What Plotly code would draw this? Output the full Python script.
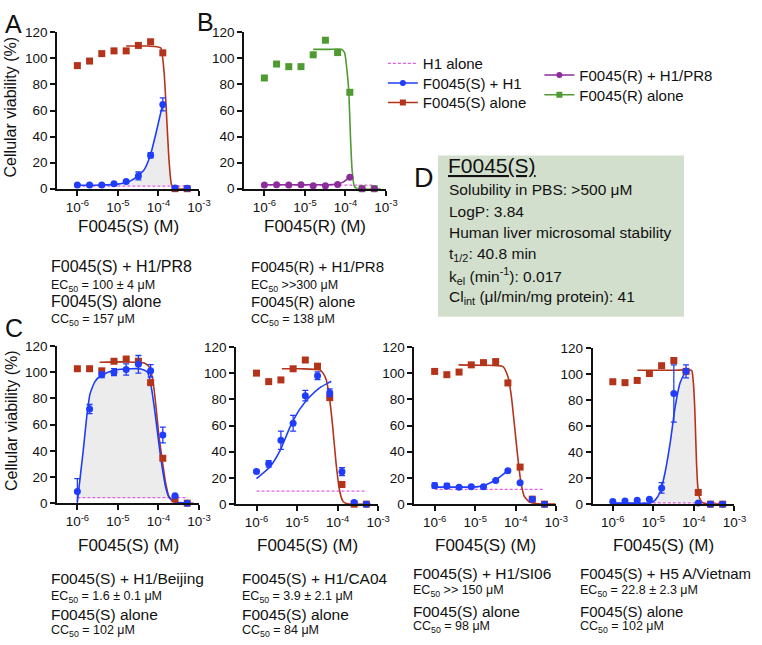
"""Dose-response panels for F0045(S)/(R) with Plotly."""

from __future__ import annotations

import numpy as np
import plotly.graph_objects as go

W, H = 762, 645
FONT = "Liberation Sans, Arial, Helvetica, sans-serif"
INK = "#111111"
BLUE = "#1f3dfa"
RED = "#b3331b"
GREEN = "#4f9a32"
PURPLE = "#8d2d9c"
MAGENTA = "#e35ee8"
SHADE = "#ececec"
BOX = "#d3dfcd"

# two-fold dilution series (M)
CONC_M = [1e-6, 2e-6, 4e-6, 8e-6, 1.6e-5, 3.2e-5, 6.4e-5, 1.28e-4, 2.56e-4, 5.12e-4]
TICK_VALS = [1e-6, 1e-5, 1e-4, 1e-3]
TICK_TEXT = ["10<sup>-6</sup>", "10<sup>-5</sup>", "10<sup>-4</sup>", "10<sup>-3</sup>"]
Y_TICKS = [0, 20, 40, 60, 80, 100, 120]

# --- panel A: F0045(S) vs H1/PR8 ---
A_VIRUS_PTS = [2.8, 2.8, 2.8, 3.8, 5.5, 9.8, 25.6, 64.7, 0.5, 0.3]
A_VIRUS_ERR = [0.5, 0.5, 0.5, 0.6, 0.8, 3.0, 2.0, 5.0, 0.3, 0.3]
A_ALONE_PTS = [94.5, 98.0, 103.7, 105.8, 105.8, 110.0, 112.8, 104.3, 0.0, 0.0]
A_H1_ONLY = 2.0
A_FIT_VIRUS_X = [1e-6, 4e-6, 1e-5, 2e-5, 3.1e-5, 4.5e-5, 6.3e-5, 8.6e-5, 1.26e-4]
A_FIT_VIRUS_Y = [2.6, 2.8, 3.5, 5.8, 9.8, 14.8, 25.6, 42.0, 64.4]
A_FIT_ALONE_X = [1.6e-5, 5e-5, 9e-5, 1.15e-4, 1.38e-4, 1.58e-4, 1.82e-4, 2.1e-4, 2.5e-4, 5.6e-4]
A_FIT_ALONE_Y = [109.5, 109.5, 109.0, 108.0, 89.0, 57.0, 22.0, 3.0, 0.3, 0.0]

# --- panel B: F0045(R) vs H1/PR8 ---
B_VIRUS_PTS = [2.8, 3.0, 2.8, 3.0, 2.3, 2.3, 3.3, 8.8, 0.0, 0.0]
B_VIRUS_ERR = [0.3, 0.3, 0.3, 0.3, 0.3, 0.3, 0.3, 0.5, 0.3, 0.3]
B_ALONE_PTS = [85.0, 95.7, 93.7, 93.7, 102.8, 114.0, 104.5, 74.0, 0.0, 0.0]
B_H1_ONLY = 2.8
B_FIT_VIRUS_X = [1e-6, 1e-5, 3.2e-5, 6.4e-5, 9e-5, 1.28e-4]
B_FIT_VIRUS_Y = [3.0, 3.0, 3.0, 3.6, 5.2, 8.8]
B_FIT_ALONE_X = [1.6e-5, 4e-5, 7.9e-5, 9.5e-5, 1.1e-4, 1.21e-4, 1.33e-4, 1.46e-4, 1.66e-4, 2e-4, 7.4e-4]
B_FIT_ALONE_Y = [107.0, 107.0, 107.0, 104.5, 89.5, 74.0, 39.0, 14.0, 1.7, 0.0, 0.0]

# --- panel C1: H1/Beijing ---
C1_VIRUS_PTS = [9.0, 71.8, 98.0, 100.0, 102.0, 106.0, 101.0, 52.0, 5.7, 0.0]
C1_VIRUS_ERR = [9.7, 3.5, 2.2, 2.7, 4.3, 6.7, 4.8, 6.0, 0.8, 0.3]
C1_ALONE_PTS = [102.6, 102.6, 101.0, 108.3, 110.0, 108.3, 92.0, 34.3, 3.2, 0.0]
C1_H1_ONLY = 4.2
C1_FIT_VIRUS_X = [1e-6, 1.4e-6, 1.69e-6, 2.04e-6, 2.69e-6, 3.89e-6, 7.94e-6, 2.09e-5, 3.72e-5,
                  5.37e-5, 6.31e-5, 7.14e-5, 8.32e-5, 9.55e-5, 1.1e-4, 1.26e-4, 1.51e-4, 1.82e-4,
                  2.4e-4, 5.62e-4]
C1_FIT_VIRUS_Y = [1.0, 40.5, 65.0, 83.0, 92.6, 97.6, 101.5, 102.6, 102.4, 100.0, 92.7, 82.7, 67.8,
                  53.0, 38.0, 25.6, 12.0, 4.5, 1.2, 0.0]
C1_FIT_ALONE_X = [3.55e-6, 1.58e-5, 4.47e-5, 5.89e-5, 7.14e-5, 8.13e-5, 9.33e-5, 1.02e-4, 1.15e-4,
                  1.29e-4, 1.51e-4, 1.82e-4, 2.4e-4, 3.55e-4, 7.41e-4]
C1_FIT_ALONE_Y = [107.6, 107.8, 107.0, 104.0, 95.0, 82.0, 64.0, 52.0, 40.0, 29.0, 15.0, 5.0, 1.0, 0.1, 0.0]

# --- panel C2: H1/CA04 ---
C2_VIRUS_PTS = [25.0, 30.8, 48.8, 61.8, 82.8, 98.0, 85.0, 24.8, 1.3, 0.0]
C2_VIRUS_ERR = [1.0, 2.5, 7.0, 6.0, 4.0, 3.0, 3.0, 3.0, 1.0, 0.3]
C2_ALONE_PTS = [100.0, 93.5, 94.8, 103.3, 110.0, 105.3, 81.3, 15.0, 0.0, 0.0]
C2_H1_ONLY = 10.0
C2_FIT_VIRUS_X = [1e-6, 2.19e-6, 3.84e-6, 6.71e-6, 1.17e-5, 2.06e-5, 3.61e-5, 6.31e-5, 6.95e-5]
C2_FIT_VIRUS_Y = [19.5, 28.8, 41.0, 58.8, 72.5, 82.0, 88.8, 93.0, 93.8]
C2_FIT_ALONE_X = [4.22e-6, 1.26e-5, 3.61e-5, 4.37e-5, 5.25e-5, 6.31e-5, 7.59e-5, 9.18e-5, 1.11e-4,
                  1.33e-4, 1.62e-4, 1.94e-4, 6.53e-4]
C2_FIT_ALONE_Y = [103.3, 103.3, 102.5, 100.0, 95.0, 81.0, 58.8, 31.0, 11.0, 2.5, 0.5, 0.0, 0.0]

# --- panel C3: H1/SI06 ---
C3_VIRUS_PTS = [14.3, 13.8, 13.0, 13.3, 13.3, 18.0, 25.5, 16.3, 3.8, 0.0]
C3_VIRUS_ERR = [2.0, 2.0, 0.8, 0.8, 0.8, 0.8, 0.8, 0.8, 0.5, 0.3]
C3_ALONE_PTS = [101.3, 98.8, 100.8, 106.3, 108.0, 108.8, 92.5, 28.3, 3.8, 0.0]
C3_H1_ONLY = 11.3
C3_FIT_VIRUS_X = [1e-6, 3.16e-6, 1.1e-5, 1.91e-5, 3.31e-5, 4.79e-5, 6.46e-5]
C3_FIT_VIRUS_Y = [13.0, 13.0, 13.2, 15.0, 18.8, 22.5, 25.8]
C3_FIT_ALONE_X = [3.89e-6, 1.58e-5, 4.83e-5, 6.4e-5, 7.69e-5, 9.25e-5, 1.12e-4, 1.35e-4, 1.62e-4,
                  2.14e-4, 3.09e-4, 9.55e-4]
C3_FIT_ALONE_Y = [106.3, 106.0, 105.0, 97.5, 83.8, 61.0, 36.0, 16.0, 6.0, 1.8, 0.5, 0.0]

# --- panel C4: H5 A/Vietnam ---
C4_VIRUS_PTS = [2.0, 2.5, 3.0, 3.8, 12.5, 85.0, 102.0, 0.8, 0.0, 0.0]
C4_VIRUS_ERR = [0.3, 0.3, 0.3, 0.3, 4.0, 22.0, 5.0, 0.3, 0.3, 0.3]
C4_ALONE_PTS = [94.0, 93.3, 95.0, 100.3, 106.3, 110.3, 102.0, 9.0, 0.0, 0.0]
C4_H1_ONLY = 1.0
C4_FIT_VIRUS_X = [1e-6, 3.16e-6, 8.51e-6, 1.12e-5, 1.48e-5, 1.95e-5, 2.6e-5, 3.44e-5, 4.55e-5,
                  6.03e-5, 6.61e-5]
C4_FIT_VIRUS_Y = [0.8, 0.8, 1.0, 3.3, 9.5, 24.5, 47.0, 74.5, 93.0, 100.8, 102.0]
C4_FIT_ALONE_X = [4.05e-6, 3.16e-5, 8.75e-5, 9.55e-5, 1.04e-4, 1.1e-4, 1.16e-4, 1.24e-4, 1.39e-4,
                  1.66e-4, 2.21e-4, 6.17e-4]
C4_FIT_ALONE_Y = [102.8, 102.8, 102.8, 95.8, 76.8, 54.5, 32.0, 14.5, 4.5, 1.0, 0.3, 0.0]

# panel geometry in pixels: y-axis x, plot top, plot bottom
GEOM = {
    "A": (58, 26, 186), "B": (248, 26, 186),
    "C1": (58, 347, 508), "C2": (240, 348, 509), "C3": (421, 348, 509), "C4": (602, 349, 509),
}
PX_PER_DECADE = 41.2
X_RANGE = [-6.5, -3.0]

PANELS = [
    ("A", A_VIRUS_PTS, A_VIRUS_ERR, A_ALONE_PTS, A_H1_ONLY, A_FIT_VIRUS_X, A_FIT_VIRUS_Y,
     A_FIT_ALONE_X, A_FIT_ALONE_Y, BLUE, RED, True),
    ("B", B_VIRUS_PTS, B_VIRUS_ERR, B_ALONE_PTS, B_H1_ONLY, B_FIT_VIRUS_X, B_FIT_VIRUS_Y,
     B_FIT_ALONE_X, B_FIT_ALONE_Y, PURPLE, GREEN, False),
    ("C1", C1_VIRUS_PTS, C1_VIRUS_ERR, C1_ALONE_PTS, C1_H1_ONLY, C1_FIT_VIRUS_X, C1_FIT_VIRUS_Y,
     C1_FIT_ALONE_X, C1_FIT_ALONE_Y, BLUE, RED, True),
    ("C2", C2_VIRUS_PTS, C2_VIRUS_ERR, C2_ALONE_PTS, C2_H1_ONLY, C2_FIT_VIRUS_X, C2_FIT_VIRUS_Y,
     C2_FIT_ALONE_X, C2_FIT_ALONE_Y, BLUE, RED, False),
    ("C3", C3_VIRUS_PTS, C3_VIRUS_ERR, C3_ALONE_PTS, C3_H1_ONLY, C3_FIT_VIRUS_X, C3_FIT_VIRUS_Y,
     C3_FIT_ALONE_X, C3_FIT_ALONE_Y, BLUE, RED, False),
    ("C4", C4_VIRUS_PTS, C4_VIRUS_ERR, C4_ALONE_PTS, C4_H1_ONLY, C4_FIT_VIRUS_X, C4_FIT_VIRUS_Y,
     C4_FIT_ALONE_X, C4_FIT_ALONE_Y, BLUE, RED, True),
]

# text under each panel: (left px, [line y px], title font, lines)
CAPTIONS = {
    "A": (50, [266, 286, 302, 320], 16, ["F0045(S) + H1/PR8", "EC<sub>50</sub> = 100 ± 4 μM",
                                          "F0045(S) alone", "CC<sub>50</sub> = 157 μM"]),
    "B": (253, [266, 286, 302, 320], 15, ["F0045(R) + H1/PR8", "EC<sub>50</sub> >>300 μM",
                                           "F0045(R) alone", "CC<sub>50</sub> = 138 μM"]),
    "C1": (50, [585, 604, 622, 639], 15.5, ["F0045(S) + H1/Beijing", "EC<sub>50</sub> = 1.6 ± 0.1 μM",
                                             "F0045(S) alone", "CC<sub>50</sub> = 102 μM"]),
    "C2": (244, [585, 604, 622, 639], 15.5, ["F0045(S) + H1/CA04", "EC<sub>50</sub> = 3.9 ± 2.1 μM",
                                              "F0045(S) alone", "CC<sub>50</sub> = 84 μM"]),
    "C3": (418, [580, 598, 619, 635], 15.5, ["F0045(S) + H1/SI06", "EC<sub>50</sub> >> 150 μM",
                                              "F0045(S) alone", "CC<sub>50</sub> = 98 μM"]),
    "C4": (587, [580, 598, 619, 635], 15, ["F0045(S) + H5 A/Vietnam", "EC<sub>50</sub> = 22.8 ± 2.3 μM",
                                            "F0045(S) alone", "CC<sub>50</sub> = 102 μM"]),
}
X_TITLES = {"A": ("F0045(S) (M)", 225), "B": ("F0045(R) (M)", 225), "C1": ("F0045(S) (M)", 551),
            "C2": ("F0045(S) (M)", 551), "C3": ("F0045(S) (M)", 551), "C4": ("F0045(S) (M)", 551)}

INFO_TITLE = "<u>F0045(S)</u>"
INFO_LINES = [
    "Solubility in PBS: >500 μM",
    "LogP: 3.84",
    "Human liver microsomal stability",
    "t<sub>1/2</sub>: 40.8 min",
    "k<sub>el</sub> (min<sup>-1</sup>): 0.017",
    "Cl<sub>int</sub> (μl/min/mg protein): 41",
]

# legend entries: name, colour, marker symbol, text-left px, row centre px
LEGEND_ITEMS = [
    ("H1 alone", MAGENTA, None, 423, 58),
    ("F0045(S) + H1", BLUE, "circle", 423, 78),
    ("F0045(S) alone", RED, "square", 423, 98),
    ("F0045(R) + H1/PR8", PURPLE, "circle", 582, 70),
    ("F0045(R) alone", GREEN, "square", 582, 90),
]


def label(x: float, y: float, text: str, size: float, anchor: str = "left", angle: int = 0) -> dict:
    return dict(x=x / W, y=1 - y / H, xref="paper", yref="paper", text=text, showarrow=False,
                xanchor=anchor, yanchor="middle", textangle=angle,
                font=dict(family=FONT, size=size, color=INK))


def shade_polygon(vx, vy, ax, ay, base):
    """Area between the H1-alone baseline and the lower of the two fitted curves."""
    lv, la = np.log10(vx), np.log10(ax)
    grid = np.unique(np.concatenate([lv, la[la >= lv[0]]]))
    top = np.minimum(np.interp(grid, lv, vy), np.interp(grid, la, ay))
    top = np.maximum(top, base)
    xs = np.concatenate([grid, grid[::-1]])
    ys = np.concatenate([top, np.full(len(grid), base)])
    return 10 ** xs, ys


fig = go.Figure()
layout_axes = {}
annotations = []

for i, (key, v_pts, v_err, a_pts, h1, fvx, fvy, fax, fay, c_virus, c_alone, shaded) in enumerate(PANELS, 1):
    xa, ya = f"x{i}", f"y{i}"
    left, top, bottom = GEOM[key]
    right = left + (X_RANGE[1] - X_RANGE[0]) * PX_PER_DECADE
    axis_common = dict(showline=True, linecolor=INK, linewidth=1.8, ticks="outside", ticklen=5,
                       tickwidth=1.8, tickcolor=INK, showgrid=False, zeroline=False,
                       tickfont=dict(family=FONT, size=13.5, color=INK))
    layout_axes[f"xaxis{i}"] = dict(axis_common, type="log", range=X_RANGE, domain=[left / W, right / W],
                                    anchor=ya, tickvals=TICK_VALS, ticktext=TICK_TEXT)
    layout_axes[f"yaxis{i}"] = dict(axis_common, range=[0, 120], domain=[1 - bottom / H, 1 - top / H],
                                    anchor=xa, tickvals=Y_TICKS)

    if shaded:
        sx, sy = shade_polygon(fvx, fvy, fax, fay, h1)
        fig.add_trace(go.Scatter(x=sx, y=sy, mode="lines", fill="toself", fillcolor=SHADE,
                                 line=dict(width=0), xaxis=xa, yaxis=ya, showlegend=False, hoverinfo="skip"))
    fig.add_trace(go.Scatter(x=[CONC_M[0], CONC_M[-1]], y=[h1, h1], mode="lines",
                             line=dict(color=MAGENTA, width=1.2, dash="3px,2px"),
                             xaxis=xa, yaxis=ya, showlegend=False))
    fig.add_trace(go.Scatter(x=fax, y=fay, mode="lines",
                             line=dict(color=c_alone, width=1.6, shape="spline", smoothing=0.5),
                             xaxis=xa, yaxis=ya, showlegend=False, cliponaxis=False))
    fig.add_trace(go.Scatter(x=fvx, y=fvy, mode="lines",
                             line=dict(color=c_virus, width=1.6, shape="spline", smoothing=0.5),
                             xaxis=xa, yaxis=ya, showlegend=False, cliponaxis=False))
    fig.add_trace(go.Scatter(x=CONC_M, y=a_pts, mode="markers",
                             marker=dict(symbol="square", size=7, color=c_alone),
                             xaxis=xa, yaxis=ya, showlegend=False, cliponaxis=False))
    fig.add_trace(go.Scatter(x=CONC_M, y=v_pts, mode="markers",
                             marker=dict(symbol="circle", size=7, color=c_virus),
                             error_y=dict(type="data", array=v_err, color=c_virus, thickness=1.3, width=3),
                             xaxis=xa, yaxis=ya, showlegend=False, cliponaxis=False))

    title, ty = X_TITLES[key]
    annotations.append(label((left + right) / 2, ty, title, 17, anchor="center"))
    cx, ys, big, lines = CAPTIONS[key]
    for j, (line_y, txt) in enumerate(zip(ys, lines)):
        annotations.append(label(cx, line_y, txt, big if j % 2 == 0 else 12.5))

# one single-entry legend per row so each row sits exactly where the reference has it
legend_style = dict(xanchor="left", yanchor="middle", bgcolor="rgba(0,0,0,0)", borderwidth=0,
                    font=dict(family=FONT, size=15, color=INK), itemwidth=30)
legends = {}
for k, (name, color, sym, tx, ty) in enumerate(LEGEND_ITEMS, 1):
    key = "legend" if k == 1 else f"legend{k}"
    if sym is None:
        tr = go.Scatter(x=[None], y=[None], mode="lines", name=name,
                        line=dict(color=color, width=1.2, dash="3px,2px"))
    else:
        tr = go.Scatter(x=[None], y=[None], mode="lines+markers", name=name,
                        line=dict(color=color, width=1.5), marker=dict(symbol=sym, size=6, color=color))
    tr.update(legend=key, xaxis="x1", yaxis="y1")
    fig.add_trace(tr)
    legends[key] = dict(legend_style, x=(tx - 34) / W, y=1 - ty / H)

# axis titles, panel letters, info box
annotations += [
    label(11, 103, "Cellular viability (%)", 16, anchor="center", angle=-90),
    label(11, 424, "Cellular viability (%)", 16, anchor="center", angle=-90),
    label(3, 17, "A", 25), label(198, 15, "B", 25), label(3, 329, "C", 25), label(419, 175, "D", 27),
    label(453, 162, INFO_TITLE, 21),
]
for k, txt in enumerate(INFO_LINES):
    annotations.append(label(454, 187 + 22 * k, txt, 15.5))

fig.update_layout(
    width=W, height=H,
    margin=dict(l=0, r=0, t=0, b=0),
    paper_bgcolor="white", plot_bgcolor="rgba(0,0,0,0)",
    showlegend=True,
    shapes=[dict(type="rect", xref="paper", yref="paper", x0=445 / W, x1=695 / W,
                 y0=1 - 317 / H, y1=1 - 152 / H, fillcolor=BOX, line=dict(width=0), layer="below")],
    annotations=annotations,
    hovermode=False,
    **legends,
    **layout_axes,
)

# drop the browser's default 8px body margin so the figure sits at the page origin
fig.write_html("out.html", config={"displayModeBar": False},
               post_script="document.body.style.margin='0px';")
